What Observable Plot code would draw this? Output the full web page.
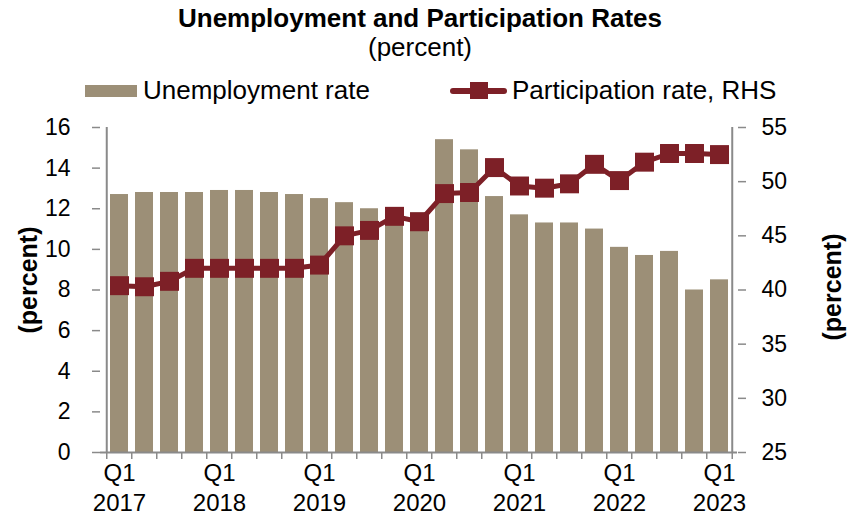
<!DOCTYPE html>
<html>
<head>
<meta charset="utf-8">
<script src="https://cdn.jsdelivr.net/npm/d3@7"></script>
<script src="https://cdn.jsdelivr.net/npm/@observablehq/plot@0.6"></script>
<style>
  html, body { margin: 0; padding: 0; background: #fff; }
  #wrap { position: relative; width: 853px; height: 527px; font-family: "Liberation Sans", Arial, sans-serif; color: #000; }
  #header { position: relative; width: 853px; height: 110px; }
  .abs { position: absolute; white-space: nowrap; line-height: 26px; }
  #title { left: 0; width: 840px; top: 5px; text-align: center; font-size: 26px; font-weight: bold; }
  #subtitle { left: 0; width: 840px; top: 34px; text-align: center; font-size: 26px; }
  .leg { font-size: 26px; top: 77px; }
  #chart svg { display: block; }
</style>
</head>
<body>
<div id="wrap">
  <div id="header">
    <div id="title" class="abs">Unemployment and Participation Rates</div>
    <div id="subtitle" class="abs">(percent)</div>
    <div class="abs" style="left:85px; top:85px; width:52px; height:12px; background:#9C8F77;"></div>
    <div class="abs leg" style="left:143px;">Unemployment rate</div>
    <div class="abs" style="left:450px; top:88px; width:57px; height:6px; background:#7D2027; border-radius:3px;"></div>
    <div class="abs" style="left:470px; top:82px; width:18px; height:17px; background:#7D2027;"></div>
    <div class="abs leg" style="left:512px;">Participation rate, RHS</div>
  </div>
  <div id="chart"></div>
</div>
<script>
// ---- data ----
const quarters = [
  "Q1 2017","Q2 2017","Q3 2017","Q4 2017",
  "Q1 2018","Q2 2018","Q3 2018","Q4 2018",
  "Q1 2019","Q2 2019","Q3 2019","Q4 2019",
  "Q1 2020","Q2 2020","Q3 2020","Q4 2020",
  "Q1 2021","Q2 2021","Q3 2021","Q4 2021",
  "Q1 2022","Q2 2022","Q3 2022","Q4 2022",
  "Q1 2023"
];
const unemploymentRate = [
  12.7, 12.8, 12.8, 12.8,
  12.9, 12.9, 12.8, 12.7,
  12.5, 12.3, 12.0, 12.0,
  11.8, 15.4, 14.9, 12.6,
  11.7, 11.3, 11.3, 11.0,
  10.1, 9.7, 9.9, 8.0,
  8.5
];
const participationRate = [
  40.4, 40.3, 40.8, 42.0,
  42.0, 42.0, 42.0, 42.0,
  42.3, 45.0, 45.5, 46.8,
  46.3, 48.9, 49.0, 51.3,
  49.6, 49.4, 49.8, 51.6,
  50.1, 51.8, 52.6, 52.6,
  52.5
];
const xTickLabels = ["Q1 2017","Q1 2018","Q1 2019","Q1 2020","Q1 2021","Q1 2022","Q1 2023"];
const leftTicks = [0, 2, 4, 6, 8, 10, 12, 14, 16];
const rightTicks = [25, 30, 35, 40, 45, 50, 55];
const leftDomain = [0, 16];
const rightDomain = [25, 55];

// ---- build ----
const data = quarters.map((q, i) => ({q, u: unemploymentRate[i], p: participationRate[i]}));
const toLeft = p => leftDomain[0] + (p - rightDomain[0]) * (leftDomain[1] - leftDomain[0]) / (rightDomain[1] - rightDomain[0]);

const W = 853, H = 417, mL = 100, mR = 116, mT = 17, mB = 75;
const step = (W - mL - mR) / quarters.length;
const barColor = "#9C8F77";
const lineColor = "#7D2027";
const axisColor = "#8A8A8A";

const chart = Plot.plot({
  width: W, height: H,
  marginTop: mT, marginBottom: mB, marginLeft: mL, marginRight: mR,
  style: {fontFamily: "'Liberation Sans', Arial, sans-serif", fontSize: "23px", color: "#000", background: "#fff", overflow: "visible"},
  x: {domain: quarters, paddingInner: 0.28, paddingOuter: 0.14, axis: null},
  y: {domain: leftDomain, axis: null},
  marks: [
    Plot.barY(data, {x: "q", y: "u", fill: barColor}),
    // axis lines
    Plot.ruleY([0], {stroke: axisColor, strokeWidth: 2}),
    Plot.ruleX([quarters[0]], {dx: -step / 2, stroke: axisColor, strokeWidth: 2}),
    Plot.ruleX([quarters[quarters.length - 1]], {dx: step / 2, stroke: axisColor, strokeWidth: 2}),
    // x ticks at band boundaries
    Plot.ruleX(quarters, {x: d => d, dx: -step / 2, y1: 0, y2: 0, insetBottom: -7, stroke: axisColor, strokeWidth: 1.5}),
    Plot.ruleX([quarters[quarters.length - 1]], {dx: step / 2, y1: 0, y2: 0, insetBottom: -7, stroke: axisColor, strokeWidth: 1.5}),
    // participation line
    Plot.line(data, {x: "q", y: d => toLeft(d.p), stroke: lineColor, strokeWidth: 5}),
    Plot.dot(data, {x: "q", y: d => toLeft(d.p), symbol: "square", r: 10.7, fill: lineColor, stroke: null}),
    // axes
    Plot.axisX({ticks: xTickLabels, tickSize: 0, tickPadding: 7, tickFormat: d => d.replace(" ", "\n"), lineHeight: 1.25, fontSize: 24, label: null}),
    Plot.axisY({anchor: "left", ticks: leftTicks, tickSize: 8, tickPadding: 22, stroke: axisColor, strokeWidth: 1.5, fontSize: 23, label: null}),
    Plot.axisY({anchor: "right", ticks: rightTicks.map(toLeft), tickFormat: (d, i) => String(rightTicks[i]), tickSize: 8, tickPadding: 16, stroke: axisColor, strokeWidth: 1.5, fontSize: 23, label: null}),
    // axis titles
    Plot.text(["(percent)"], {text: d => d, frameAnchor: "left", textAnchor: "middle", dx: -72, dy: -10, rotate: -90, fontWeight: "bold", fontSize: 25}),
    Plot.text(["(percent)"], {text: d => d, frameAnchor: "right", textAnchor: "middle", dx: 95, dy: -3, rotate: -90, fontWeight: "bold", fontSize: 25})
  ]
});
document.getElementById("chart").appendChild(chart);
</script>
</body>
</html>
